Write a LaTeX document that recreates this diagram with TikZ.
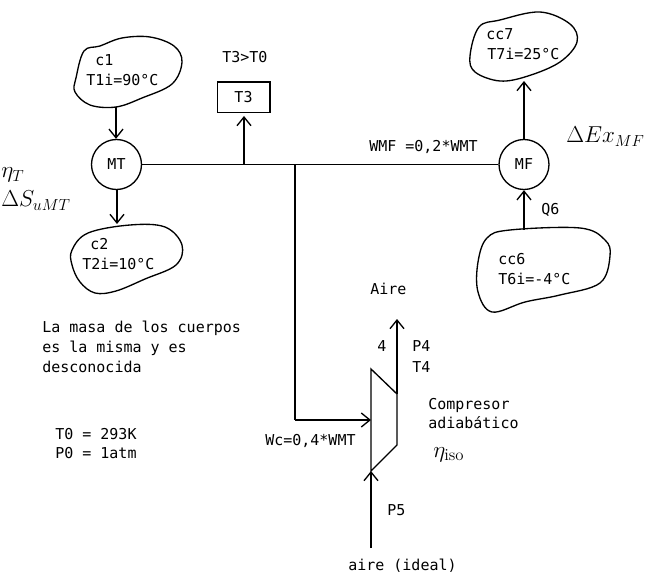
\documentclass[tikz,border=0pt]{standalone}
\usepackage{amsmath, amssymb}
\usepackage{fontspec}
\setmonofont{DejaVu Sans Mono}
\usetikzlibrary{arrows.meta}
\tikzset{
  line/.style={line width=1pt},
  flow/.style={line, -{Straight Barb[length=6.5pt,width=10.5pt,line width=1pt]}},
  txt/.style={anchor=base west, inner sep=0pt, font=\ttfamily\fontsize{11.25}{13}\selectfont},
  mth/.style={anchor=base west, inner sep=0pt, font=\fontsize{18}{20}\selectfont},
  machine/.style={circle, draw, line width=1pt, minimum size=37.5pt, inner sep=0pt, font=\ttfamily\fontsize{11.25}{13}\selectfont}
}
\begin{document}
\begin{tikzpicture}[x=0.75pt,y=0.75pt,yscale=-1,xscale=1]
\useasboundingbox (0,0) rectangle (650,574);
%Shape: bodies
\draw [line] plot [smooth cycle, tension=0.6] coordinates {(84,51) (100,46) (122,38) (150,37) (174,46) (182,62) (172,84) (142,98) (116,107) (90,105) (75,92) (76,78)};
\draw [line] plot [smooth cycle, tension=0.6] coordinates {(72,250) (88,233) (130,225) (165,227) (182,245) (176,265) (145,279) (116,291) (95,293) (80,282) (72,265)};
\draw [line] plot [smooth cycle, tension=0.6] coordinates {(479,27) (500,20) (540,12) (570,24) (577,42) (560,62) (528,76) (500,81) (475,72) (470,56)};
\draw [line] plot [smooth cycle, tension=0.6] coordinates {(487,238) (510,230) (580,228) (605,240) (610,256) (600,283) (560,295) (525,302) (492,312) (478,292) (478,262)};
%Named ends
\coordinate (c1s) at (116,107);
\coordinate (c2n) at (117,224);
\coordinate (cc7s) at (524,81);
\coordinate (cc6n) at (524,230);
\coordinate (junT3) at (244,164.5);
\coordinate (tipT3) at (244,116);
\coordinate (junWc) at (295,164.5);
\coordinate (cornerWc) at (295,420);
\coordinate (out4) at (397,394);
\coordinate (end4) at (397,319);
\coordinate (in5) at (371,471);
\coordinate (start5) at (371,548);
\coordinate (inWc) at (371,420);
%Machines
\node [machine] (MT) at (116.5,164.5) {MT};
\node [machine] (MF) at (524,164.5) {MF};
\node [draw, line, minimum width=39.5pt, minimum height=23pt, inner sep=0pt, font=\ttfamily\fontsize{11.25}{13}\selectfont] (T3) at (243.5,97.5) {T3};
%Compressor
\draw [line] (371,369) -- (397,394) -- (397,445) -- (371,471) -- cycle;
%Connectors
\draw [flow] (c1s) -- (MT.north -| c1s);
\draw [flow] (MT.south -| c2n) -- (c2n);
\draw [line] (MT) -- (MF);
\draw [flow] (junT3) -- (tipT3);
\draw [line] (junWc) -- (cornerWc);
\draw [flow] (cornerWc) -- (inWc);
\draw [flow] (MF) -- (cc7s);
\draw [flow] (cc6n) -- (MF);
\draw [flow] (out4) -- (end4);
\draw [flow] (start5) -- (in5);
% Text Node
\node [txt] (c1) at (95,66) {c1};
\node [txt] (T1i) at (86,86) {T1i=90°C};
\node [txt] (T3T0) at (222,63) {T3>T0};
\node [txt] (WMF) at (369,152) {WMF =0,2*WMT};
\node [txt] (cc7) at (486,40) {cc7};
\node [txt] (T7i) at (487,60) {T7i=25°C};
\node [txt] (Q6) at (541,215) {Q6};
\node [txt] (cc6) at (498,265) {cc6};
\node [txt] (T6i) at (498,284) {T6i=-4°C};
\node [txt] (c2) at (90,250) {c2};
\node [txt] (T2i) at (82,270) {T2i=10°C};
\node [txt] (Aire) at (370,294) {Aire};
\node [txt] (masa1) at (42,332) {La masa de los cuerpos};
\node [txt] (masa2) at (42,352) {es la misma y es};
\node [txt] (masa3) at (42,372) {desconocida};
\node [txt] (T0) at (55,439) {T0 = 293K};
\node [txt] (P0) at (55,458) {P0 = 1atm};
\node [txt] (four) at (377,351) {4};
\node [txt] (P4) at (412,351) {P4};
\node [txt] (T4) at (412,372) {T4};
\node [txt] (Comp) at (428,409) {Compresor};
\node [txt] (adia) at (428,428) {adiabático};
\node [txt] (Wc) at (265,445) {Wc=0,4*WMT};
\node [txt] (P5) at (387,515) {P5};
\node [txt] (ideal) at (348,570) {aire (ideal)};
\node [mth] (etaT) at (1,178) {$\eta_T$};
\node [mth] (DSu) at (1,207) {$\Delta S_{uMT}$};
\node [mth] (DEx) at (566,143) {$\Delta Ex_{MF}$};
\node [mth] (etaiso) at (433,457) {$\eta_{\text{iso}}$};
\end{tikzpicture}
\end{document}
